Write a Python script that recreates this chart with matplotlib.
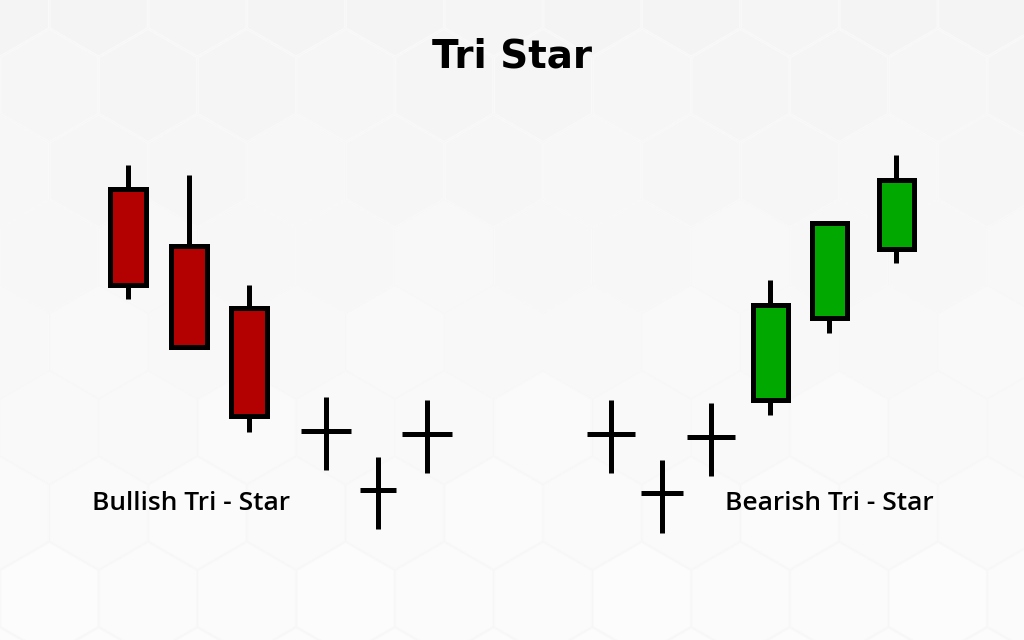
import matplotlib.pyplot as plt
from matplotlib.patches import RegularPolygon
import numpy as np

# candle values on a 0..640 price scale
bull_x = [128, 189, 249]
bull_open = [451, 394, 332]
bull_close = [355, 293, 224]
bull_high = [475, 465, 355]
bull_low = [341, 293, 208]

bull_doji_x = [326, 378, 427]
bull_doji_mid = [209, 150, 206]
bull_doji_high = [243, 183, 240]
bull_doji_low = [170, 111, 167]

bear_x = [770, 829, 896]
bear_open = [240, 322, 391]
bear_close = [335, 417, 460]
bear_high = [360, 417, 485]
bear_low = [225, 307, 377]

bear_doji_x = [611, 662, 711]
bear_doji_mid = [206, 147, 203]
bear_doji_high = [240, 180, 237]
bear_doji_low = [167, 107, 164]

doji_halfwidth_l = [25, 18, 25]
doji_halfwidth_r = [24, 21, 24]

RED = '#b30000'
GREEN = '#00a800'
LW = 3.6


def draw_candles(ax, xs, opens, closes, highs, lows, color, width):
    ax.vlines(xs, lows, highs, colors='black', linewidth=LW, zorder=2)
    heights = [c - o for o, c in zip(opens, closes)]
    ax.bar(xs, heights, bottom=opens, width=width, color=color,
           edgecolor='black', linewidth=LW, zorder=3)


def draw_doji(ax, xs, mids, highs, lows, halfw):
    ax.vlines(xs, lows, highs, colors='black', linewidth=LW, zorder=2)
    for x, m, h in zip(xs, mids, halfw):
        ax.hlines(m, x - h, x + h, colors='black', linewidth=LW, zorder=2)


def draw_background(ax):
    ax.add_patch(plt.Rectangle((0, 0), 1024, 640, color='#f6f6f6', zorder=0))
    r = 57
    w = r * np.sqrt(3)
    row = 0
    y = 640
    while y > -r:
        off = 0 if row % 2 == 0 else w / 2
        x = -off
        col = 0
        while x < 1024 + w:
            shade = 0.955 + 0.03 * (1 - y / 640) + 0.006 * ((row + col) % 3) / 2
            shade = min(shade, 0.99)
            ax.add_patch(RegularPolygon((x, y), 6, radius=r - 1,
                                        facecolor=(shade, shade, shade),
                                        edgecolor=(0.975, 0.975, 0.975),
                                        linewidth=0.8, zorder=0.5))
            x += w
            col += 1
        y -= 1.5 * r
        row += 1


fig = plt.figure(figsize=(10.24, 6.4), dpi=100)
ax = fig.add_axes([0, 0, 1, 1])
ax.set_xlim(0, 1024)
ax.set_ylim(0, 640)
ax.axis('off')

draw_background(ax)

draw_candles(ax, bull_x, bull_open, bull_close, bull_high, bull_low, RED, 36)
draw_doji(ax, bull_doji_x, bull_doji_mid, bull_doji_high, bull_doji_low, doji_halfwidth_l)
draw_candles(ax, bear_x, bear_open, bear_close, bear_high, bear_low, GREEN, 35)
draw_doji(ax, bear_doji_x, bear_doji_mid, bear_doji_high, bear_doji_low, doji_halfwidth_r)

ax.text(512, 640 - 67, 'Tri Star', ha='center', va='baseline',
        fontsize=28, fontweight='bold', family='DejaVu Sans', color='black', zorder=5)
ax.text(92, 640 - 510, 'Bullish Tri - Star', ha='left', va='baseline',
        fontsize=19, fontweight='semibold', family='Open Sans', color='black', zorder=5)
ax.text(725, 640 - 510, 'Bearish Tri - Star', ha='left', va='baseline',
        fontsize=19, fontweight='semibold', family='Open Sans', color='black', zorder=5)

fig.savefig('out.png', dpi=100)
